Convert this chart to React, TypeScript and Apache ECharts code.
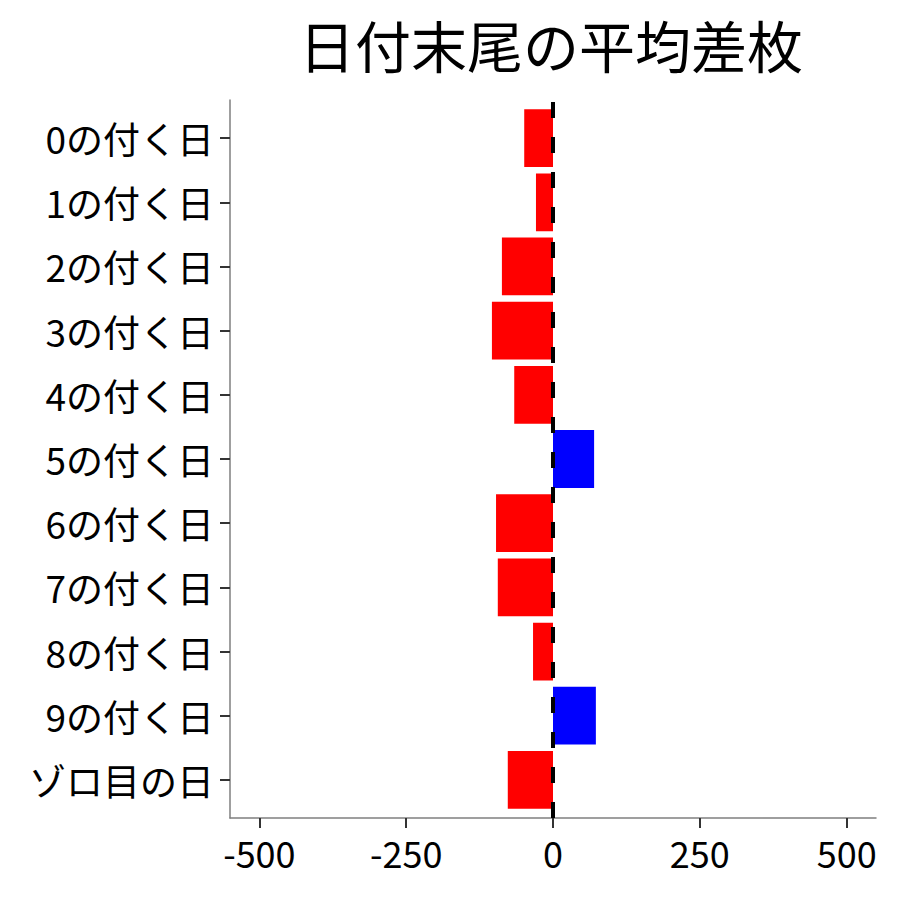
import React, { useEffect, useRef } from "react";
import * as echarts from "echarts";

const titleText = "日付末尾の平均差枚";
const categories = [
  "0の付く日",
  "1の付く日",
  "2の付く日",
  "3の付く日",
  "4の付く日",
  "5の付く日",
  "6の付く日",
  "7の付く日",
  "8の付く日",
  "9の付く日",
  "ゾロ目の日",
];
const values = [-49, -29, -87, -104, -66, 70, -97, -94, -34, 73, -77];
const xTicks = [-500, -250, 0, 250, 500];
const xMin = -550;
const xMax = 550;

const FONT = "Noto Sans CJK JP";

export default function App() {
  const ref = useRef<HTMLDivElement>(null);
  useEffect(() => {
    if (!ref.current) return;
    const chart = echarts.init(ref.current, null, { renderer: "svg" });
    const option: any = {
      animation: false,
      textStyle: { fontFamily: FONT },
      graphic: [
        {
          type: "text",
          x: 551,
          y: 43,
          style: {
            text: titleText,
            fontSize: 56,
            fontFamily: FONT,
            fill: "#000",
            textAlign: "center",
            textVerticalAlign: "middle",
          },
        },
      ],
      grid: [
        { left: 230, right: 24, top: 106, bottom: 88 },
        { left: 230, right: 24, top: 100, bottom: 82 },
      ],
      xAxis: [
        { type: "value", gridIndex: 0, min: xMin, max: xMax, show: false },
        {
          type: "value",
          gridIndex: 1,
          min: xMin,
          max: xMax,
          position: "bottom",
          axisLine: { show: true, onZero: false, lineStyle: { color: "#7f7f7f", width: 1.5 } },
          axisTick: {
            show: true,
            length: 10,
            customValues: xTicks,
            lineStyle: { color: "#333", width: 2 },
          },
          axisLabel: {
            show: true,
            customValues: xTicks,
            fontSize: 36,
            color: "#000",
            fontFamily: FONT,
            margin: 16,
          },
          splitLine: { show: false },
        },
      ],
      yAxis: [
        {
          type: "category",
          gridIndex: 0,
          data: categories,
          inverse: true,
          position: "left",
          axisLine: { show: false, onZero: false },
          axisTick: {
            show: true,
            alignWithLabel: true,
            length: 10,
            lineStyle: { color: "#333", width: 2 },
          },
          axisLabel: {
            fontSize: 37,
            color: "#000",
            fontFamily: FONT,
            margin: 16,
          },
          splitLine: { show: false },
        },
        {
          type: "value",
          gridIndex: 1,
          min: 0,
          max: 1,
          position: "left",
          axisLine: { show: true, onZero: false, lineStyle: { color: "#7f7f7f", width: 1.5 } },
          axisTick: { show: false },
          axisLabel: { show: false },
          splitLine: { show: false },
        },
      ],
      series: [
        {
          type: "bar",
          xAxisIndex: 0,
          yAxisIndex: 0,
          barWidth: "90%",
          z: 2,
          data: values.map((v) => ({
            value: v,
            itemStyle: { color: v >= 0 ? "#0000FF" : "#FF0000" },
          })),
        },
        {
          type: "line",
          xAxisIndex: 1,
          yAxisIndex: 1,
          z: 5,
          symbol: "none",
          silent: true,
          data: [
            [0, 0],
            [0, 1],
          ],
          lineStyle: { color: "#000", width: 4, type: [16, 19] },
        },
      ],
    };
    chart.setOption(option);
    return () => chart.dispose();
  }, []);
  return (
    <div
      ref={ref}
      style={{ position: "fixed", left: 0, top: 0, width: 900, height: 900, background: "#fff" }}
    />
  );
}
